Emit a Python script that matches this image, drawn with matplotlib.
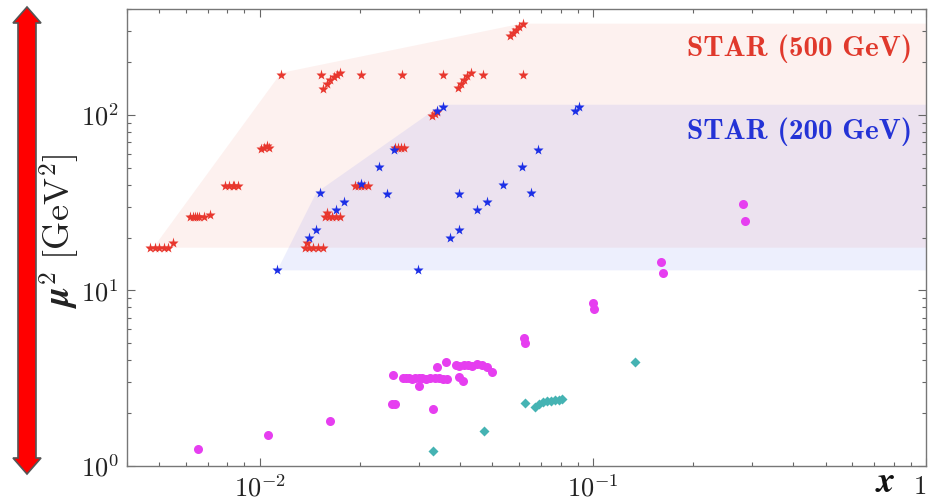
import os
import numpy as np
import matplotlib
matplotlib.use("Agg")
import matplotlib.pyplot as plt
from matplotlib.patches import Polygon
from matplotlib.font_manager import FontProperties
from matplotlib.ticker import FixedLocator, FixedFormatter, LogLocator, NullFormatter

plt.rcParams['mathtext.fontset'] = 'cm'
plt.rcParams['font.family'] = ['DejaVu Serif']

# ---------------- data ----------------
# STAR 500 GeV (red stars)
x500 = [0.0047, 0.00485, 0.0050, 0.00515, 0.0053, 0.00548,
        0.0062, 0.0063, 0.0064, 0.0065, 0.0066, 0.0068, 0.0071,
        0.0079, 0.0081, 0.0083, 0.0084, 0.0086,
        0.0101, 0.0103, 0.0105, 0.0107,
        0.0116,
        0.0155, 0.0159, 0.0163, 0.0167, 0.0171, 0.0174,
        0.0153, 0.0202, 0.0267, 0.0355, 0.0467, 0.0616,
        0.0393, 0.0402, 0.0410, 0.0420, 0.0430,
        0.0563, 0.0575, 0.0588, 0.0600, 0.0616,
        0.0330, 0.0335, 0.0340,
        0.0255, 0.0260, 0.0265, 0.0272,
        0.0193, 0.0197, 0.0201, 0.0206, 0.0211,
        0.0157, 0.0161, 0.0165, 0.0169, 0.0174, 0.0159,
        0.0137, 0.0141, 0.0145, 0.0150, 0.0155, 0.0139]
y500 = [17.5, 17.5, 17.5, 17.5, 17.5, 18.5,
        26, 26, 26, 26, 26, 26, 27.0,
        39.5, 39.5, 39.5, 39.5, 39.5,
        64, 65, 66, 65,
        169,
        140, 150, 158, 164, 169, 173,
        169, 169, 169, 169, 169, 169,
        142, 150, 158, 166, 173,
        281, 293, 305, 317, 329,
        98, 101, 104,
        65, 65, 65, 65,
        39.5, 39.5, 39.5, 39.5, 39.5,
        26, 26, 26, 26, 26, 27.5,
        17.5, 17.5, 17.5, 17.5, 17.5, 18.5]

# STAR 200 GeV (blue stars)
x200 = [0.0113, 0.0141, 0.0148, 0.0152, 0.0170, 0.0179, 0.0201, 0.0229,
        0.0241, 0.0254, 0.0298, 0.0340, 0.0355, 0.0374, 0.0396, 0.0398,
        0.0448, 0.0480, 0.0536, 0.0612, 0.0651, 0.0684, 0.0883, 0.0908]
y200 = [13.0, 20.0, 22.2, 36.0, 28.5, 32.0, 40.5, 50.7,
        35.6, 63.0, 13.0, 105, 111, 20.0, 35.6, 22.2,
        28.5, 32.0, 40.0, 50.7, 36.0, 63.0, 105, 111]

# magenta circles
xm = [0.00652, 0.01057, 0.0163, 0.0250, 0.0255, 0.0251, 0.0331,
      0.0269, 0.0275, 0.0281, 0.0287, 0.0293, 0.0300, 0.0308, 0.0316, 0.0325, 0.0335, 0.0345, 0.0355, 0.0365,
      0.0300, 0.0340, 0.0362,
      0.0388, 0.0398, 0.0410, 0.0422, 0.0435, 0.0450, 0.0464,
      0.0398, 0.0407, 0.0480, 0.0500,
      0.0620, 0.0625, 0.1000, 0.1005, 0.1600, 0.1620, 0.2830, 0.2870]
ym = [1.25, 1.50, 1.80, 2.25, 2.26, 3.29, 2.11,
      3.16, 3.16, 3.16, 3.14, 3.16, 3.18, 3.16, 3.14, 3.16, 3.18, 3.16, 3.12, 3.14,
      2.85, 3.65, 3.90,
      3.75, 3.70, 3.78, 3.75, 3.72, 3.80, 3.75,
      3.20, 3.04, 3.65, 3.42,
      5.34, 5.00, 8.5, 7.8, 14.6, 12.5, 31.2, 24.7]

# teal diamonds
xd = [0.0331, 0.0470, 0.0627, 0.0669, 0.0690, 0.0710, 0.0730, 0.0750, 0.0770, 0.0790, 0.0810, 0.1336]
yd = [1.22, 1.58, 2.28, 2.16, 2.25, 2.30, 2.33, 2.36, 2.37, 2.39, 2.42, 3.90]

# kinematic regions
band500_x = [0.0048, 0.0116, 0.061, 1.0, 1.0]
band500_y = [17.5, 173, 330, 330, 17.5]
band200_x = [0.0113, 0.0148, 0.0352, 1.0, 1.0]
band200_y = [13.0, 36.0, 114, 114, 13.0]

xticks = [0.01, 0.1, 1.0]
xticklabels = [r'$10^{-2}$', r'$10^{-1}$', r'$1$']
yticks = [1, 10, 100]
yticklabels = [r'$10^{0}$', r'$10^{1}$', r'$10^{2}$']

# ---------------- figure ----------------
cmb = os.path.join(matplotlib.get_data_path(), 'fonts', 'ttf', 'cmb10.ttf')
fp_bold = FontProperties(fname=cmb, size=21)

fig = plt.figure(figsize=(9.3, 5.0), dpi=100)
ax = fig.add_axes([127/930, 1-466/500, (926-127)/930, (466-9)/500])
ax.set_xscale('log')
ax.set_yscale('log')
ax.set_xlim(0.004, 1.0)
ax.set_ylim(1.0, 400)

ax.fill(band500_x, band500_y, color=(0.92, 0.40, 0.32), alpha=0.09, lw=0, zorder=1)
ax.fill(band200_x, band200_y, color=(0.39, 0.43, 0.94), alpha=0.11, lw=0, zorder=1)

ax.plot(x500, y500, ls='none', marker='*', ms=8, color='#e8372e', mec='none', zorder=3)
ax.plot(x200, y200, ls='none', marker='*', ms=8, color='#1c2fe6', mec='none', zorder=4)
ax.plot(xm, ym, ls='none', marker='o', ms=6.5, color='#e63ef0', mec='none', zorder=3)
ax.plot(xd, yd, ls='none', marker='D', ms=5.5, color='#45b3b3', mec='none', zorder=3)

ax.text(0.983, 0.912, 'STAR (500 GeV)', transform=ax.transAxes,
        ha='right', va='center', fontproperties=fp_bold, color='#e0392c')
ax.text(0.983, 0.732, 'STAR (200 GeV)', transform=ax.transAxes,
        ha='right', va='center', fontproperties=fp_bold, color='#2433d6')

ax.xaxis.set_major_locator(FixedLocator(xticks))
ax.xaxis.set_major_formatter(FixedFormatter(xticklabels))
ax.xaxis.set_minor_locator(LogLocator(base=10, subs=np.arange(2, 10), numticks=20))
ax.xaxis.set_minor_formatter(NullFormatter())
ax.yaxis.set_major_locator(FixedLocator(yticks))
ax.yaxis.set_major_formatter(FixedFormatter(yticklabels))
ax.yaxis.set_minor_locator(LogLocator(base=10, subs=np.arange(2, 10), numticks=20))
ax.yaxis.set_minor_formatter(NullFormatter())

ax.tick_params(which='both', direction='in', top=True, right=True, colors='#666666',
               labelcolor='#222222', width=0.8)
ax.tick_params(which='major', length=6, labelsize=19, pad=6)
ax.tick_params(which='minor', length=3)
for s in ax.spines.values():
    s.set_color('#777777')
    s.set_linewidth(1.0)

fig.canvas.draw()
xl = ax.get_xticklabels()
xl[-1].set_horizontalalignment('right')

ax.set_ylabel(r'$\boldsymbol{\mu}^{2}\ [\mathrm{GeV}^2]$', fontsize=26, color='#222222',
              va='center')
ax.yaxis.set_label_coords(-0.084, 0.515)
fig.text(885/930, 1-492/500, r'$\boldsymbol{x}$', fontsize=26, ha='center', va='baseline', color='#111111')

# decorative double arrow at far left (figure pixel geometry)
W, H = 930.0, 500.0
cx, top, bot = 27, 7, 474
hw, sw, hl = 14, 9, 16
verts = [(cx, top), (cx + hw, top + hl), (cx + sw, top + hl), (cx + sw, bot - hl),
         (cx + hw, bot - hl), (cx, bot), (cx - hw, bot - hl), (cx - sw, bot - hl),
         (cx - sw, top + hl), (cx - hw, top + hl)]
verts = [(vx / W, 1 - vy / H) for vx, vy in verts]
fig.patches.append(Polygon(verts, closed=True, transform=fig.transFigure,
                           facecolor='#ff0000', edgecolor='#555555', lw=1.2))

fig.savefig('out.png', dpi=100)
